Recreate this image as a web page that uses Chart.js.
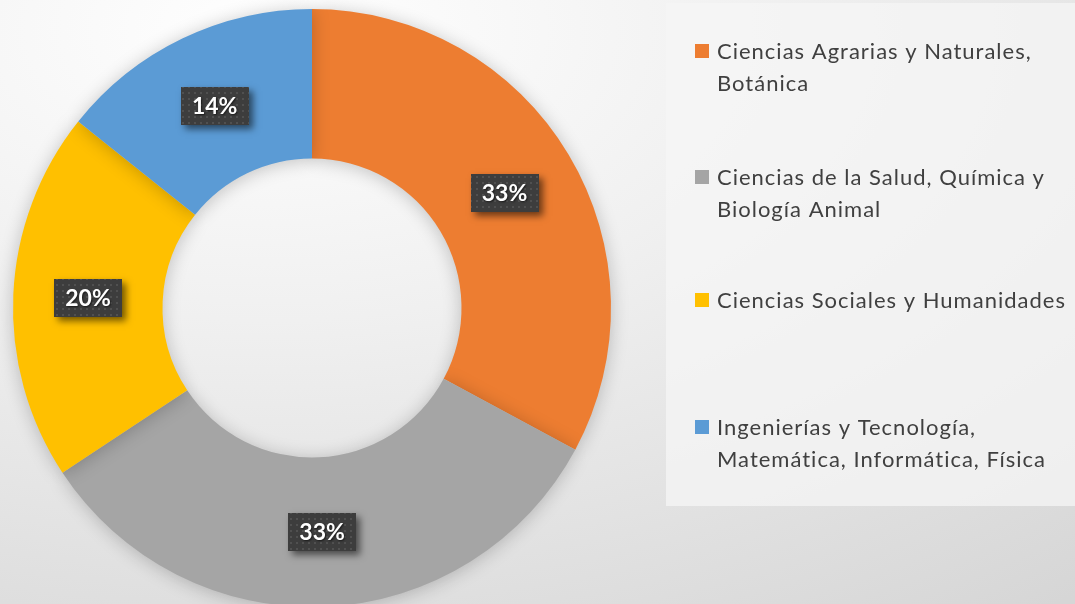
<!DOCTYPE html>
<html><head><meta charset="utf-8">
<script src="https://cdn.jsdelivr.net/npm/chart.js@4.4.0/dist/chart.umd.min.js"></script>
<style>
html,body{margin:0;padding:0;width:1075px;height:604px;overflow:hidden;
background:radial-gradient(ellipse 120% 120% at 25% 5%, #ffffff 0%, #f0f0f0 40%, #d6d6d6 100%);}
#wrap{position:absolute;left:0;top:0;width:1075px;height:610px;}
</style></head>
<body>
<div id="wrap"><canvas id="c" width="1075" height="610"></canvas></div>
<script>
const categories = [
  ["Ciencias Agrarias y Naturales,", "Botánica"],
  ["Ciencias de la Salud, Química y", "Biología Animal"],
  ["Ciencias Sociales y Humanidades"],
  ["Ingenierías y Tecnología,", "Matemática, Informática, Física"]
];
const counts = [23, 23, 14, 10];
const percentLabels = ["33%", "33%", "20%", "14%"];
const colors = ["#ED7D31", "#A5A5A5", "#FFC000", "#5B9BD5"];

function makePattern(ctx){
  const p = document.createElement('canvas');
  p.width = 6; p.height = 6;
  const g = p.getContext('2d');
  g.fillStyle = '#3d3d3d'; g.fillRect(0,0,6,6);
  g.fillStyle = '#505050'; g.fillRect(2,2,2,2);
  return ctx.createPattern(p, 'repeat');
}

const bgPlugin = {
  id: 'bgPanel',
  beforeDraw(chart){
    const ctx = chart.ctx;
    ctx.save();
    ctx.fillStyle = 'rgba(245,245,245,0.75)';
    ctx.fillRect(666, 3, 409, 503);
    ctx.restore();
  }
};

const shadowPlugin = {
  id: 'ringShadow',
  beforeDatasetsDraw(chart){
    const ctx = chart.ctx;
    ctx.save();
    ctx.shadowColor = 'rgba(0,0,0,0.22)';
    ctx.shadowBlur = 18;
    ctx.shadowOffsetX = 0;
    ctx.shadowOffsetY = 2;
  },
  afterDatasetsDraw(chart){
    chart.ctx.restore();
  }
};

const labelPlugin = {
  id: 'pctLabels',
  afterDatasetsDraw(chart){
    const ctx = chart.ctx;
    const meta = chart.getDatasetMeta(0);
    const pat = makePattern(ctx);
    ctx.save();
    ctx.font = 'bold 23px Lato';
    ctx.textAlign = 'center';
    ctx.textBaseline = 'middle';
    meta.data.forEach((arc, i) => {
      const pos = arc.tooltipPosition();
      const tw = ctx.measureText(percentLabels[i]).width;
      const w = Math.round(tw + 22), h = 38;
      const x = Math.round(pos.x - w/2), y = Math.round(pos.y - h/2);
      ctx.save();
      ctx.shadowColor = 'rgba(0,0,0,0.55)';
      ctx.shadowBlur = 7;
      ctx.shadowOffsetX = 4;
      ctx.shadowOffsetY = 4;
      ctx.fillStyle = '#3d3d3d';
      ctx.fillRect(x, y, w, h);
      ctx.restore();
      ctx.fillStyle = pat;
      ctx.fillRect(x, y, w, h);
      ctx.save();
      ctx.shadowColor = 'rgba(0,0,0,0.6)';
      ctx.shadowBlur = 2;
      ctx.shadowOffsetX = 1;
      ctx.shadowOffsetY = 1;
      ctx.fillStyle = '#ffffff';
      ctx.fillText(percentLabels[i], pos.x, pos.y + 1);
      ctx.restore();
    });
    ctx.restore();
  }
};

const legendPlugin = {
  id: 'sideLegend',
  afterDraw(chart){
    const ctx = chart.ctx;
    const centers = [67, 193, 300, 443];
    const lineH = 32;
    ctx.save();
    ctx.font = '22px Lato';
    ctx.letterSpacing = '1px';
    ctx.textBaseline = 'middle';
    ctx.textAlign = 'left';
    chart.data.labels.forEach((lines, i) => {
      const n = lines.length;
      const top = centers[i] - (n-1)*lineH/2;
      ctx.fillStyle = chart.data.datasets[0].backgroundColor[i];
      ctx.fillRect(695, top - 7, 14, 14);
      ctx.fillStyle = '#404040';
      lines.forEach((t, k) => ctx.fillText(t, 717, top + k*lineH + 1));
    });
    ctx.restore();
  }
};

new Chart(document.getElementById('c'), {
  type: 'doughnut',
  data: {
    labels: categories,
    datasets: [{
      data: counts,
      backgroundColor: colors,
      borderWidth: 0
    }]
  },
  options: {
    responsive: false,
    animation: false,
    cutout: '50%',
    layout: { padding: { left: 13, top: 9, right: 464, bottom: 3 } },
    plugins: { legend: { display: false }, tooltip: { enabled: false } }
  },
  plugins: [bgPlugin, shadowPlugin, labelPlugin, legendPlugin]
});
</script>
</body></html>
